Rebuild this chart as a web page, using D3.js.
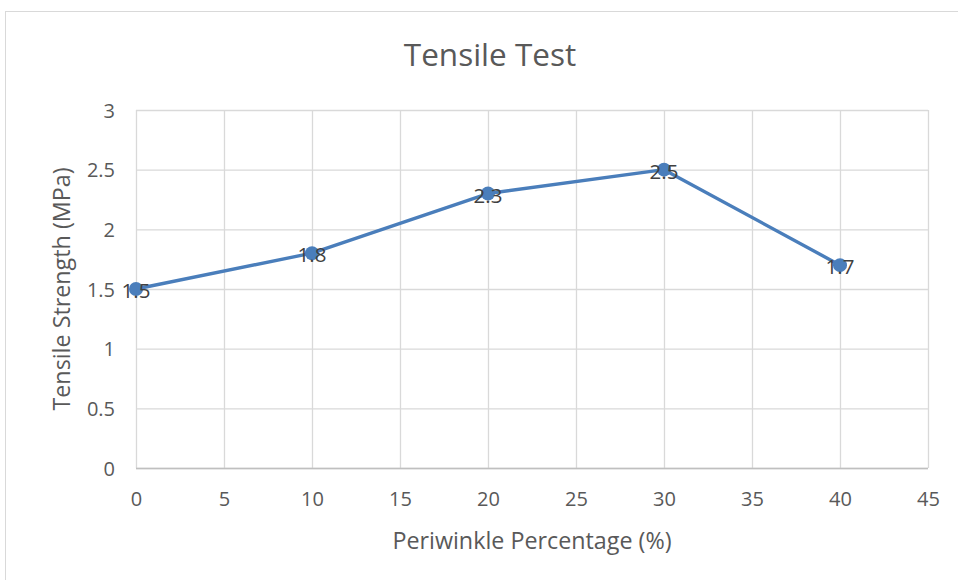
<!DOCTYPE html>
<html><head><meta charset="utf-8">
<script src="https://cdn.jsdelivr.net/npm/d3@7"></script>
<style>body{margin:0;background:#fff}svg{display:block}</style>
</head><body>
<script>
const xValues = [0, 10, 20, 30, 40];
const yValues = [1.5, 1.8, 2.3, 2.5, 1.7];
const xTicks = [0, 5, 10, 15, 20, 25, 30, 35, 40, 45];
const yTicks = [0, 0.5, 1, 1.5, 2, 2.5, 3];
const title = "Tensile Test";
const xTitle = "Periwinkle Percentage (%)";
const yTitle = "Tensile Strength (MPa)";

const W = 958, H = 580;
const font = "'Open Sans', sans-serif";
const svg = d3.select("body").append("svg").attr("width", W).attr("height", H);
svg.append("rect").attr("x", 5.5).attr("y", 11.5).attr("width", W + 10).attr("height", H + 10)
  .attr("fill", "#fff").attr("stroke", "#d9d9d9").attr("stroke-width", 1);

const x = d3.scaleLinear().domain([0, 45]).range([136, 928]);
const y = d3.scaleLinear().domain([0, 3]).range([468, 110]);

const g = svg.append("g");
g.selectAll(".vg").data(xTicks).join("line")
  .attr("x1", d => x(d) + 0.5).attr("x2", d => x(d) + 0.5)
  .attr("y1", y(3)).attr("y2", y(0)).attr("stroke", "#d9d9d9").attr("stroke-width", 1.3);
g.selectAll(".hg").data(yTicks).join("line")
  .attr("x1", x(0)).attr("x2", x(45))
  .attr("y1", d => y(d) + 0.5).attr("y2", d => y(d) + 0.5).attr("stroke", "#d9d9d9").attr("stroke-width", 1.3);
g.append("line").attr("x1", x(0)).attr("x2", x(45)).attr("y1", y(0) + 0.5).attr("y2", y(0) + 0.5)
  .attr("stroke", "#bfbfbf").attr("stroke-width", 1.3);

const xAxis = d3.axisBottom(x).tickValues(xTicks).tickSize(0).tickPadding(0);
svg.append("g").attr("transform", `translate(0,${y(0) + 31})`).call(xAxis)
  .call(s => s.select(".domain").remove())
  .selectAll("text").attr("font-family", font).attr("font-size", 20).attr("fill", "#595959").attr("dy", "0.35em");
const yAxis = d3.axisLeft(y).tickValues(yTicks).tickSize(0).tickPadding(0).tickFormat(d3.format("~g"));
svg.append("g").attr("transform", `translate(${x(0) - 21},0)`).call(yAxis)
  .call(s => s.select(".domain").remove())
  .selectAll("text").attr("font-family", font).attr("font-size", 20).attr("fill", "#595959").attr("dy", "0.35em");

const data = xValues.map((v, i) => ({x: v, y: yValues[i]}));
svg.append("path").datum(data)
  .attr("d", d3.line().x(d => x(d.x)).y(d => y(d.y)))
  .attr("fill", "none").attr("stroke", "#4a7ebb").attr("stroke-width", 3.4).attr("stroke-linejoin", "round");
svg.selectAll(".pt").data(data).join("circle")
  .attr("cx", d => x(d.x)).attr("cy", d => y(d.y)).attr("r", 7)
  .attr("fill", "#4a7ebb");
svg.selectAll(".lbl").data(data).join("text")
  .attr("x", d => x(d.x)).attr("y", d => y(d.y) + 2).attr("dy", "0.35em")
  .attr("text-anchor", "middle").attr("font-family", font).attr("font-size", 20.5).attr("fill", "#404040")
  .text(d => d.y);

svg.append("text").attr("x", 490).attr("y", 55).attr("dy", "0.35em").attr("text-anchor", "middle")
  .attr("font-family", font).attr("font-size", 31.5).attr("fill", "#595959").text(title);
svg.append("text").attr("x", 532).attr("y", 541).attr("dy", "0.35em").attr("text-anchor", "middle")
  .attr("font-family", font).attr("font-size", 23.3).attr("fill", "#595959").text(xTitle);
svg.append("text").attr("transform", "translate(62,289) rotate(-90)").attr("dy", "0.35em").attr("text-anchor", "middle")
  .attr("font-family", font).attr("font-size", 23.3).attr("fill", "#595959").text(yTitle);
</script>
</body></html>
